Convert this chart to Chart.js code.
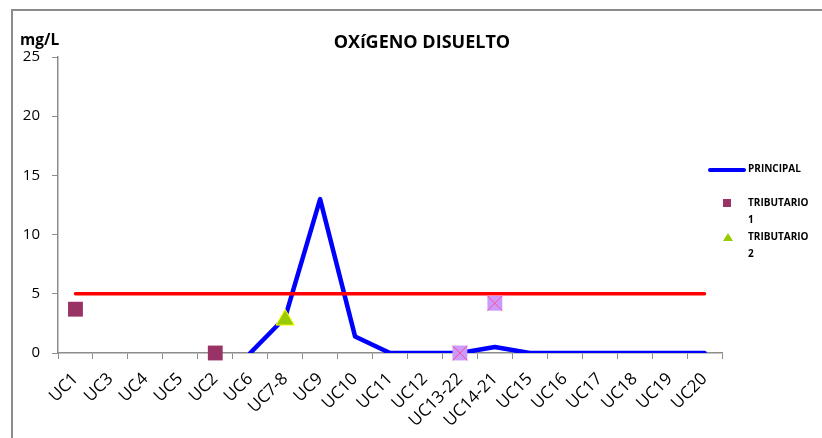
<!DOCTYPE html>
<html>
<head>
<meta charset="utf-8">
<script src="https://cdn.jsdelivr.net/npm/chart.js@4.4.1/dist/chart.umd.min.js"></script>
<style>
  html, body { margin: 0; padding: 0; background: #fff; }
  #wrap { position: relative; width: 822px; height: 438px; overflow: hidden; font-family: "Open Sans", "DejaVu Sans", sans-serif; }
  #frame { position: absolute; left: 11px; top: 9px; width: 830px; height: 440px; border-left: 2px solid #8c8c8c; border-top: 2px solid #8c8c8c; }
  #chartBox { position: absolute; left: 0; top: 0; width: 822px; height: 438px; }
  #title { position: absolute; left: 0; width: 844px; top: 29px; text-align: center; font-weight: bold; font-size: 18px; color: #000; }
  #unit { position: absolute; left: 20px; top: 28px; font-weight: bold; font-size: 15.5px; color: #000; }
  #legend { position: absolute; left: 706px; top: 160px; width: 110px; font-size: 10px; font-weight: bold; color: #000; }
  .item { position: relative; height: 34px; }
  .swatch { position: absolute; }
  .lbl { position: absolute; left: 42px; width: 60px; line-height: 17px; }
</style>
</head>
<body>
<div id="wrap">
  <div id="frame"></div>
  <div id="chartBox"><canvas id="chart" width="822" height="438"></canvas></div>
  <div id="title">OXíGENO DISUELTO</div>
  <div id="unit">mg/L</div>
  <div id="legend"></div>
</div>
<script>
const categories = ["UC1", "UC3", "UC4", "UC5", "UC2", "UC6", "UC7-8", "UC9", "UC10", "UC11",
  "UC12", "UC13-22", "UC14-21", "UC15", "UC16", "UC17", "UC18", "UC19", "UC20"];
const principal = [null, null, null, null, null, 0, 3, 13, 1.4, 0, 0, 0, 0.5, 0, 0, 0, 0, 0, 0];
const limite = [5, 5, 5, 5, 5, 5, 5, 5, 5, 5, 5, 5, 5, 5, 5, 5, 5, 5, 5];
const tributario1 = [3.7, null, null, null, 0, null, null, null, null, null, null, null, null, null, null, null, null, null, null];
const tributario2 = [null, null, null, null, null, null, 2.8, null, null, null, null, null, null, null, null, null, null, null, null];
const tributario3 = [null, null, null, null, null, null, null, null, null, null, null, 0, 4.2, null, null, null, null, null, null];
const yTicks = [0, 5, 10, 15, 20, 25];

const yFont = { family: "'Open Sans', 'DejaVu Sans', sans-serif", size: 15 };
const xFont = { family: "'Open Sans', 'DejaVu Sans', sans-serif", size: 17 };

const datasets = [
  {
    label: "PRINCIPAL", data: principal, borderColor: "#0000ff", backgroundColor: "#0000ff",
    borderWidth: 4.5, pointRadius: 0, tension: 0, borderJoinStyle: "round", borderCapStyle: "round",
    order: 5, legend: "line"
  },
  {
    label: "LIMITE", data: limite, borderColor: "#ff0000", borderWidth: 3.5, pointRadius: 0,
    borderCapStyle: "round", order: 4
  },
  {
    label: "TRIBUTARIO 1", data: tributario1, showLine: false, pointStyle: "rect", pointRadius: 10.5,
    backgroundColor: "#993366", borderColor: "#993366", borderWidth: 0, order: 3, legend: "rect", clip: false
  },
  {
    label: "TRIBUTARIO 2", data: tributario2, showLine: false, pointStyle: "triangle", pointRadius: 10.5,
    backgroundColor: "#99cc00", borderColor: "#ffff00", borderWidth: 1, order: 2, legend: "tri", clip: false
  },
  {
    label: "TRIBUTARIO 3", data: tributario3, showLine: false, pointStyle: "rect", pointRadius: 10.5,
    backgroundColor: "#cc99ff", borderColor: "#cc99ff", borderWidth: 0, order: 1, clip: false
  },
  {
    label: "TRIBUTARIO 3x", data: tributario3, showLine: false, pointStyle: "crossRot", pointRadius: 10.5,
    backgroundColor: "#ff4f8b", borderColor: "#ff4f8b", borderWidth: 1, order: 0, clip: false
  }
];

const chart = new Chart(document.getElementById("chart"), {
  type: "line",
  data: { labels: categories, datasets },
  options: {
    responsive: false,
    animation: false,
    layout: { padding: { left: 0, right: 100, top: 57, bottom: 0 } },
    plugins: { legend: { display: false }, tooltip: { enabled: false }, title: { display: false } },
    scales: {
      x: {
        offset: true,
        grid: { display: true, offset: true, drawOnChartArea: false, color: "#8c8c8c", tickLength: 6 },
        border: { color: "#8c8c8c", width: 1.5 },
        ticks: { font: xFont, color: "#000", minRotation: 45, maxRotation: 45, autoSkip: false, padding: 10 },
        afterFit: (s) => { s.height = 85; }
      },
      y: {
        min: 0, max: 25,
        afterBuildTicks: (s) => { s.ticks = yTicks.map(v => ({ value: v })); },
        grid: { display: true, drawOnChartArea: false, color: "#8c8c8c", tickLength: 6 },
        border: { color: "#8c8c8c", width: 1.5 },
        ticks: { font: yFont, color: "#000", padding: 12 },
        afterFit: (s) => { s.width = 58; }
      }
    }
  }
});

// legend built from the datasets that have a legend swatch
const legendEl = document.getElementById("legend");
chart.data.datasets.filter(d => d.legend).forEach(d => {
  const item = document.createElement("div");
  item.className = "item";
  const sw = document.createElement("div");
  sw.className = "swatch";
  if (d.legend === "line") {
    Object.assign(sw.style, { left: "2px", top: "8px", width: "38px", height: "4px", background: d.borderColor, borderRadius: "2px" });
  } else if (d.legend === "rect") {
    Object.assign(sw.style, { left: "17px", top: "5px", width: "8px", height: "8px", background: d.backgroundColor });
  } else {
    Object.assign(sw.style, { left: "17px", top: "5px", width: "0", height: "0",
      borderLeft: "5px solid transparent", borderRight: "5px solid transparent", borderBottom: "8px solid " + d.backgroundColor });
  }
  const lbl = document.createElement("div");
  lbl.className = "lbl";
  lbl.textContent = d.label;
  item.appendChild(sw);
  item.appendChild(lbl);
  legendEl.appendChild(item);
});
</script>
</body>
</html>
